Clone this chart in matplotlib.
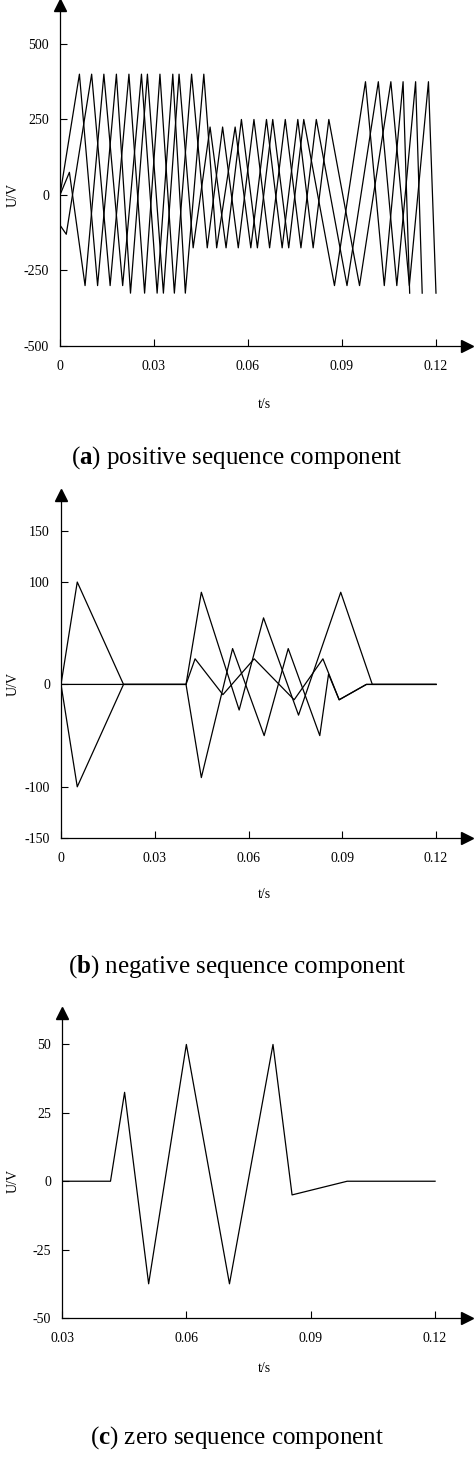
import matplotlib
matplotlib.use("Agg")
import matplotlib.pyplot as plt

# ---- data ----
ta = [0,0.0062,0.012,0.018,0.0225,0.0279,0.033,0.038,0.0425,0.0479,0.053,0.0579,0.063,0.0679,0.073,0.0778,0.0876,0.0975,0.1035,0.1095,0.1116]
ua = [0,400,-300,400,-325,400,-325,400,-175,225,-175,250,-175,250,-175,250,-300,375,-300,375,-325]
tb = [0,0.002,0.0101,0.016,0.022,0.027,0.0319,0.0365,0.042,0.047,0.0519,0.0569,0.0619,0.0669,0.0719,0.0769,0.0818,0.0916,0.1016,0.1075,0.1135,0.1156]
ub = [-100,-130,400,-300,400,-325,400,-325,400,-175,225,-175,250,-175,250,-175,250,-300,375,-300,375,-325]
tc = [0,0.003,0.008,0.014,0.020,0.026,0.031,0.036,0.040,0.0459,0.050,0.0559,0.0609,0.0659,0.0709,0.0759,0.0808,0.0858,0.0956,0.1056,0.1115,0.1176,0.12]
uc = [0,75,-300,400,-300,400,-325,400,-325,400,-175,225,-175,250,-175,250,-175,250,-300,375,-300,375,-325]

n1_t = [0,0.0052,0.020,0.040,0.0449,0.0570,0.0648,0.0760,0.0895,0.0996,0.12]
n1_u = [0,100,0,0,90,-25,65,-30,90,0,0]
n2_t = [0,0.0052,0.020,0.040,0.0449,0.0549,0.0650,0.0727,0.0828,0.0856,0.0890,0.0977,0.12]
n2_u = [0,-100,0,0,-91,35,-50,35,-50,10,-15,0,0]
n3_t = [0,0.040,0.0429,0.0518,0.0618,0.0746,0.0838,0.0890,0.0977,0.12]
n3_u = [0,0,25,-10,25,-15,25,-15,0,0]

z_t = [0.03,0.0417,0.0451,0.0509,0.060,0.0704,0.0809,0.0855,0.0988,0.12]
z_u = [0,0,32.5,-37.5,50,-37.5,50,-5,0,0]

xt_ab = [0,0.03,0.06,0.09,0.12]
xl_ab = ["0","0.03","0.06","0.09","0.12"]
xt_c = [0.03,0.06,0.09,0.12]
xl_c = ["0.03","0.06","0.09","0.12"]
yt_a = [-500,-250,0,250,500]
yt_b = [-150,-100,0,100,150]
yt_c = [-50,-25,0,25,50]

W, H = 474, 1459
fig = plt.figure(figsize=(W/100, H/100), dpi=100)
serif = ["Liberation Serif", "DejaVu Serif"]

def rect(l, b, r, t):
    return [l/W, 1-b/H, (r-l)/W, (b-t)/H]

def setup(ax, xlim, ylim, xt, xl, yt, ylab_y, tlab_y, cap_y, letter, capt):
    ax.set_xlim(*xlim); ax.set_ylim(*ylim)
    for s in ["top","right"]:
        ax.spines[s].set_visible(False)
    for s in ["left","bottom"]:
        ax.spines[s].set_linewidth(0.9)
    ax.set_xticks(xt); ax.set_xticklabels(xl)
    ax.set_yticks(yt); ax.set_yticklabels([str(v) for v in yt])
    ax.tick_params(direction="in", length=5, width=0.8, labelsize=10)
    ax.tick_params(axis="x", pad=10)
    ax.tick_params(axis="y", pad=8)
    for lab in ax.get_xticklabels()+ax.get_yticklabels():
        lab.set_family(serif)
    ax.plot([0],[1],marker="^",color="black",markersize=9,transform=ax.transAxes,clip_on=False)
    ax.plot([1],[0],marker=">",color="black",markersize=9,transform=ax.transAxes,clip_on=False)
    fig.text(13/W, 1-ylab_y/H, "U/V", rotation=90, ha="center", va="center", fontsize=10, family=serif)
    fig.text(264/W, 1-tlab_y/H, "t/s", ha="center", va="center", fontsize=10, family=serif)
    fig.text(237/W, 1-cap_y/H, r"(" + r"$\mathbf{" + letter + r"}$" + ") " + capt,
             ha="center", va="center", fontsize=18, family=serif)

plt.rcParams["mathtext.fontset"] = "custom"
plt.rcParams["mathtext.bf"] = "Liberation Serif:bold"

ax1 = fig.add_axes(rect(60, 346, 467, 5))
ax1.plot(ta, ua, color="black", lw=0.9)
ax1.plot(tb, ub, color="black", lw=0.9)
ax1.plot(tc, uc, color="black", lw=0.9)
setup(ax1, (0, 0.1299), (-500, 629), xt_ab, xl_ab, yt_a, 195, 405, 458, "a", "positive sequence component")

ax2 = fig.add_axes(rect(61, 838, 467, 495))
for t, u in [(n1_t, n1_u), (n2_t, n2_u), (n3_t, n3_u)]:
    ax2.plot(t, u, color="black", lw=0.9)
setup(ax2, (0, 0.1299), (-150, 185), xt_ab, xl_ab, yt_b, 684, 895, 967, "b", "negative sequence component")

ax3 = fig.add_axes(rect(62, 1318, 467, 1013))
ax3.plot(z_t, z_u, color="black", lw=0.9)
setup(ax3, (0.03, 0.1277), (-50, 61.5), xt_c, xl_c, yt_c, 1181, 1368, 1438, "c", "zero sequence component")

fig.savefig("out.png", dpi=100)
